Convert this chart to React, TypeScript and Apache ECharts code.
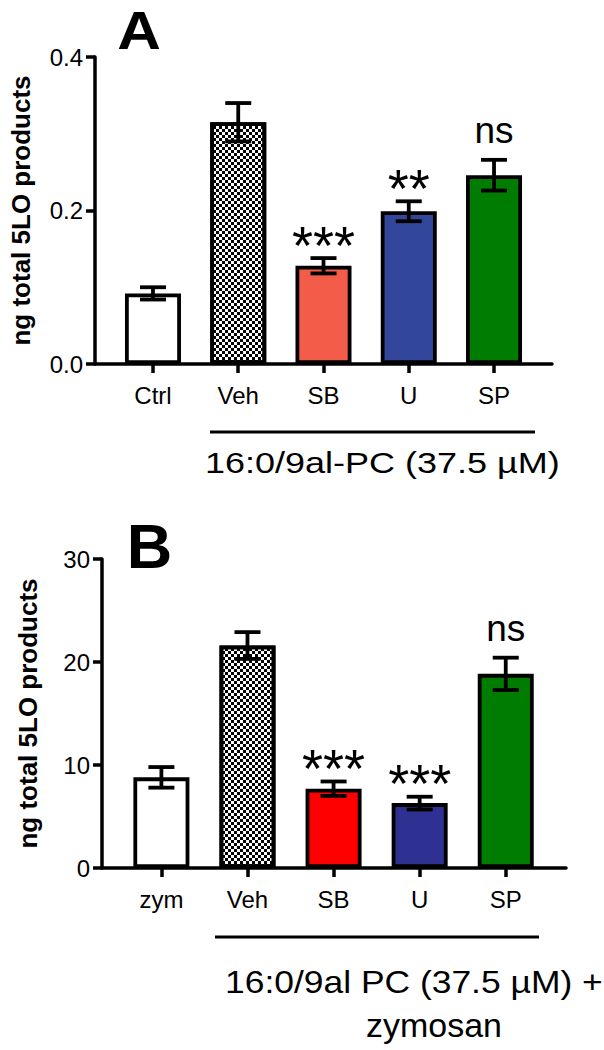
import React, { useEffect, useRef } from "react";
import * as echarts from "echarts";

// Panel A
const categoriesA = ["Ctrl", "Veh", "SB", "U", "SP"];
const meansA = [0.092, 0.315, 0.128, 0.199, 0.246];
const semA = [0.008, 0.025, 0.01, 0.013, 0.02];
const sigA = ["", "", "***", "**", "ns"];
const colorsA = ["#ffffff", "pattern", "#f25c48", "#32479b", "#007c00"];
const yTicksA = { min: 0, max: 0.4, interval: 0.2, decimals: 1 };

// Panel B
const categoriesB = ["zym", "Veh", "SB", "U", "SP"];
const meansB = [8.8, 21.6, 7.7, 6.3, 18.85];
const semB = [1.0, 1.3, 0.7, 0.62, 1.57];
const sigB = ["", "", "***", "***", "ns"];
const colorsB = ["#ffffff", "pattern", "#ff0000", "#2e3192", "#007c00"];
const yTicksB = { min: 0, max: 30, interval: 10, decimals: 0 };

const yAxisTitle = "ng total 5LO products";
const groupLabelA = "16:0/9al-PC (37.5 µM)";
const groupLabelB1 = "16:0/9al PC (37.5 µM) +";
const groupLabelB2 = "zymosan";

const FONT = '"Liberation Sans", Arial, sans-serif';

const checker = {
  symbol: "rect",
  symbolSize: 1,
  dashArrayX: [[3, 3], [0, 3, 3, 0]],
  dashArrayY: [3, 0],
  rotation: 0,
  color: "#000",
  backgroundColor: "#fff",
};

function buildPanel(
  idx: number,
  cats: string[],
  means: number[],
  sems: number[],
  sigs: string[],
  colors: string[],
  yt: { min: number; max: number; interval: number; decimals: number },
  xMin: number,
  xMax: number
) {
  const xAxis = {
    type: "value",
    gridIndex: idx,
    min: xMin,
    max: xMax,
    splitLine: { show: false },
    axisLine: { show: true, onZero: false, lineStyle: { color: "#000", width: 3.5 } },
    axisTick: {
      show: true,
      customValues: cats.map((_, i) => i),
      length: 9,
      lineStyle: { color: "#000", width: 3.5 },
    },
    axisLabel: {
      customValues: cats.map((_, i) => i),
      formatter: (v: number) => cats[Math.round(v)] ?? "",
      color: "#000",
      fontSize: 24,
      fontFamily: FONT,
      margin: 19,
    },
  };
  const yAxis = {
    type: "value",
    gridIndex: idx,
    min: yt.min,
    max: yt.max,
    interval: yt.interval,
    splitLine: { show: false },
    axisLine: { show: true, onZero: false, lineStyle: { color: "#000", width: 3.5 } },
    axisTick: { show: true, length: 9, lineStyle: { color: "#000", width: 3.5 } },
    axisLabel: {
      formatter: (v: number) => v.toFixed(yt.decimals),
      color: "#000",
      fontSize: 24,
      fontFamily: FONT,
      margin: 12,
    },
    name: yAxisTitle,
    nameLocation: "middle",
    nameGap: 61,
    nameTextStyle: { color: "#000", fontSize: 26, fontWeight: "bold", fontFamily: FONT },
  };
  const bars = {
    type: "bar",
    xAxisIndex: idx,
    yAxisIndex: idx,
    barWidth: 56,
    z: 2,
    data: means.map((m, i) => ({
      value: [i, m],
      itemStyle:
        colors[i] === "pattern"
          ? { color: "#ffffff", decal: checker, borderColor: "#000", borderWidth: 3.8 }
          : { color: colors[i], borderColor: "#000", borderWidth: 3.8 },
    })),
  };
  const errors = {
    type: "custom",
    xAxisIndex: idx,
    yAxisIndex: idx,
    z: 4,
    data: means.map((m, i) => [i, m, sems[i]]),
    encode: { x: 0, y: 1 },
    renderItem: (params: any, api: any) => {
      const x = api.value(0);
      const m = api.value(1);
      const s = api.value(2);
      const top = api.coord([x, m + s]);
      const bot = api.coord([x, m - s]);
      const hw = 13;
      const st = { stroke: "#000", lineWidth: 3.8 };
      return {
        type: "group",
        children: [
          { type: "line", shape: { x1: top[0], y1: top[1], x2: bot[0], y2: bot[1] }, style: st },
          { type: "line", shape: { x1: top[0] - hw, y1: top[1], x2: top[0] + hw, y2: top[1] }, style: st },
          { type: "line", shape: { x1: bot[0] - hw, y1: bot[1], x2: bot[0] + hw, y2: bot[1] }, style: st },
        ],
      };
    },
  };
  const notes = {
    type: "custom",
    xAxisIndex: idx,
    yAxisIndex: idx,
    z: 5,
    data: means.map((m, i) => [i, m + sems[i]]),
    encode: { x: 0, y: 1 },
    renderItem: (params: any, api: any) => {
      const txt = sigs[params.dataIndex];
      if (!txt) return { type: "group", children: [] };
      const p = api.coord([api.value(0), api.value(1)]);
      const isStar = txt.indexOf("*") >= 0;
      const fs = isStar ? 54 : 37;
      const center = p[1] - (isStar ? 26 : 26);
      const y = isStar ? center + 0.233 * fs : center - 0.087 * fs;
      return {
        type: "text",
        x: p[0],
        y,
        style: {
          text: txt,
          fill: "#000",
          font: `${fs}px ${FONT}`,
          textAlign: "center",
          textVerticalAlign: "middle",
        },
      };
    },
  };
  return { xAxis, yAxis, series: [bars, errors, notes] };
}

export default function App() {
  const ref = useRef<HTMLDivElement>(null);
  useEffect(() => {
    if (!ref.current) return;
    const chart = echarts.init(ref.current, null, { renderer: "svg" });
    const a = buildPanel(0, categoriesA, meansA, semA, sigA, colorsA, yTicksA, -0.68, 4.68);
    const b = buildPanel(1, categoriesB, meansB, semB, sigB, colorsB, yTicksB, -0.69, 4.7);
    const option: any = {
      animation: false,
      backgroundColor: "#fff",
      grid: [
        { left: 88, top: 57, width: 464, height: 307 },
        { left: 102, top: 559, width: 464, height: 309 },
      ],
      xAxis: [a.xAxis, b.xAxis],
      yAxis: [a.yAxis, b.yAxis],
      series: [...a.series, ...b.series],
      graphic: [
        {
          type: "text",
          x: 139,
          y: 30.5,
          scaleX: 1.12,
          originX: 0,
          style: { text: "A", fill: "#000", font: `bold 54px ${FONT}`, textAlign: "center", textVerticalAlign: "middle" },
        },
        {
          type: "text",
          x: 149.5,
          y: 546,
          style: { text: "B", fill: "#000", font: `bold 63px ${FONT}`, textAlign: "center", textVerticalAlign: "middle" },
        },
        { type: "line", shape: { x1: 210, y1: 432, x2: 535, y2: 432 }, style: { stroke: "#000", lineWidth: 3 } },
        {
          type: "text",
          x: 205,
          y: 462.6,
          scaleX: 1.2,
          style: { text: groupLabelA, fill: "#000", font: `30px ${FONT}`, textAlign: "left", textVerticalAlign: "middle" },
        },
        { type: "line", shape: { x1: 215, y1: 937, x2: 539, y2: 937 }, style: { stroke: "#000", lineWidth: 3 } },
        {
          type: "text",
          x: 225,
          y: 982,
          scaleX: 1.107,
          style: { text: groupLabelB1, fill: "#000", font: `32px ${FONT}`, textAlign: "left", textVerticalAlign: "middle" },
        },
        {
          type: "text",
          x: 366,
          y: 1025.5,
          scaleX: 1.03,
          style: { text: groupLabelB2, fill: "#000", font: `33px ${FONT}`, textAlign: "left", textVerticalAlign: "middle" },
        },
      ],
    };
    chart.setOption(option);
    return () => chart.dispose();
  }, []);
  return (
    <div
      ref={ref}
      style={{ position: "absolute", left: 0, top: 0, width: 604, height: 1050, background: "#fff" }}
    />
  );
}
